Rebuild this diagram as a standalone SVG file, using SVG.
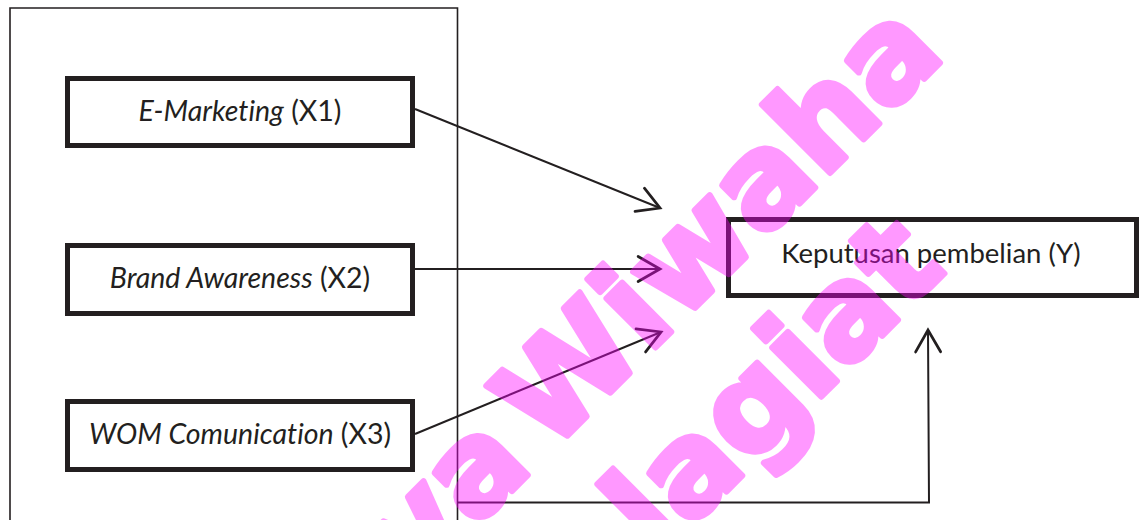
<svg xmlns="http://www.w3.org/2000/svg" width="1140" height="520" viewBox="0 0 1140 520">
  <style>
    .frame { fill: none; stroke: #231f20; stroke-width: 1.6; }
    .box { fill: #ffffff; stroke: #231f20; stroke-width: 5; }
    .label { font-family: Lato, "Open Sans", "Liberation Sans", sans-serif; font-size: 28.5px; fill: #231f20; text-anchor: middle; font-variant-ligatures: none; }
    .it { font-style: italic; }
    .conn { fill: none; stroke: #231f20; stroke-width: 2; }
    .wm { font-family: "DejaVu Sans", "Liberation Sans", sans-serif; font-weight: bold; font-size: 127px; fill: #ff00ff; stroke: #ff00ff; stroke-width: 6; stroke-linejoin: round; }
  </style>
  <defs>
    <marker id="arrow" markerUnits="userSpaceOnUse" markerWidth="30" markerHeight="30" viewBox="-20 -12 24 24" refX="0" refY="0" orient="auto">
      <path d="M-17.5,-10 L0,0 L-17.5,10" fill="none" stroke="#231f20" stroke-width="2.2" stroke-linecap="round" stroke-linejoin="miter"/>
    </marker>
  </defs>

  <rect width="1140" height="520" fill="#ffffff"/>

  <!-- grouping frame around the independent variables -->
  <path class="frame" d="M10,520 V8 H457.5 V520"/>

  <g id="x1">
    <rect class="box" x="67.5" y="78.5" width="345" height="67"/>
    <text class="label" x="240" y="121"><tspan class="it">E-Marketing</tspan> (X1)</text>
  </g>
  <g id="x2">
    <rect class="box" x="67.5" y="245.5" width="345" height="68"/>
    <text class="label" x="240" y="288"><tspan class="it">Brand Awareness</tspan> (X2)</text>
  </g>
  <g id="x3">
    <rect class="box" x="67.5" y="401.5" width="345" height="68"/>
    <text class="label" x="240" y="444"><tspan class="it">WOM Comunication</tspan> (X3)</text>
  </g>
  <g id="y">
    <rect class="box" x="728.5" y="219.5" width="408" height="76"/>
    <text class="label" x="931" y="263" style="font-size:27.5px">Keputusan pembelian (Y)</text>
  </g>

  <g id="connectors">
    <line class="conn" x1="415" y1="109" x2="660" y2="208" marker-end="url(#arrow)"/>
    <line class="conn" x1="415" y1="269" x2="660" y2="269" marker-end="url(#arrow)"/>
    <line class="conn" x1="415" y1="434" x2="661" y2="332" marker-end="url(#arrow)"/>
    <polyline class="conn" points="457.5,502.5 929,502.5 928,330" marker-end="url(#arrow)"/>
  </g>

  <!-- watermark overlay -->
  <g id="watermark" opacity="0.4">
    <text class="wm" text-anchor="end" word-spacing="-24" transform="translate(947,56) rotate(-45)">ya Wiwaha</text>
    <text class="wm" text-anchor="end" transform="translate(948,270) rotate(-45)">lagiat</text>
  </g>
</svg>
